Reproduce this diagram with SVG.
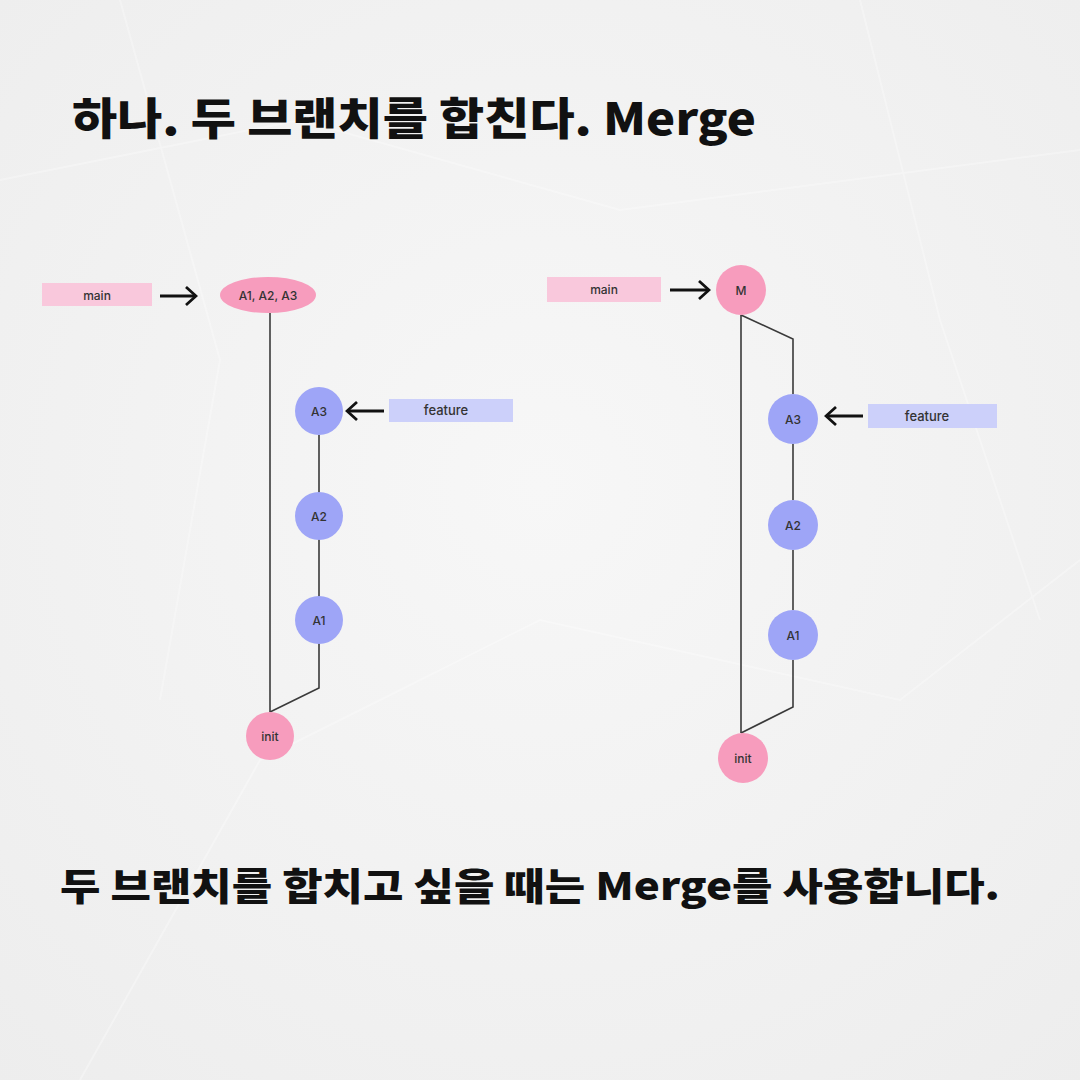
<svg xmlns="http://www.w3.org/2000/svg" width="1080" height="1080" viewBox="0 0 1080 1080">
<defs>
<marker id="open" viewBox="0 0 14 22" refX="12" refY="11" markerWidth="14" markerHeight="22" markerUnits="userSpaceOnUse" orient="auto">
<path d="M2,2 L12,11 L2,20" fill="none" stroke="#111" stroke-width="2.8" stroke-linejoin="miter"/>
</marker>
<radialGradient id="bg" cx="50%" cy="45%" r="75%">
<stop offset="0" stop-color="#f7f7f7"/>
<stop offset="1" stop-color="#ededed"/>
</radialGradient>
</defs>
<style>
.title{font-family:"Noto Sans CJK KR","Noto Sans",sans-serif;font-weight:900;fill:#111}
.lbl{font-family:Inter,"Noto Sans",sans-serif;font-weight:500;fill:#333;text-anchor:middle;dominant-baseline:central}
.pk{fill:#f79cbd}
.bl{fill:#9ea5f7}
.edge{fill:none;stroke:#3a3a3a;stroke-width:1.6}
.arr{fill:none;stroke:#111;stroke-width:2.8;marker-end:url(#open)}
.mainbox{fill:#f9c8dc}
.featbox{fill:#ccd0fa}
</style>
<rect width="1080" height="1080" fill="url(#bg)"/>
<g opacity="0.3" stroke="#ffffff" stroke-width="2" fill="none">
<path d="M0,180 L300,120 L620,210 L1080,150"/>
<path d="M80,1080 L260,760 L540,620 L900,700 L1080,560"/>
<path d="M120,0 L220,360 L160,700"/>
<path d="M860,0 L940,320 L1040,620"/>
</g>
<text class="title" x="72" y="135" font-size="44" textLength="684" lengthAdjust="spacingAndGlyphs">하나. 두 브랜치를 합친다. Merge</text>
<text class="title" x="60" y="900" font-size="38" textLength="940" lengthAdjust="spacingAndGlyphs">두 브랜치를 합치고 싶을 때는 Merge를 사용합니다.</text>
<g id="connectors">
<line class="edge" x1="270" y1="313" x2="270" y2="712"/>
<polyline class="edge" points="319,435 319,688 270,712"/>
<line class="arr" x1="160" y1="296" x2="196" y2="296"/>
<line class="arr" x1="384" y1="411" x2="347" y2="411"/>
<line class="edge" x1="741" y1="315" x2="741" y2="733"/>
<polyline class="edge" points="741,315 793,339 793,394"/>
<line class="edge" x1="793" y1="444" x2="793" y2="500"/>
<line class="edge" x1="793" y1="550" x2="793" y2="610"/>
<polyline class="edge" points="793,660 793,707 741,733"/>
<line class="arr" x1="670" y1="290" x2="709" y2="290"/>
<line class="arr" x1="863" y1="416" x2="826" y2="416"/>
</g>
<g id="main-left"><rect class="mainbox" x="42" y="283" width="110" height="23"/><text class="lbl" x="97" y="295" font-size="12">main</text></g>
<g id="a123"><ellipse class="pk" cx="268" cy="295" rx="48" ry="18"/><text class="lbl" x="268" y="295" font-size="12">A1, A2, A3</text></g>
<g id="feature-left"><rect class="featbox" x="389" y="399" width="124" height="23"/><text class="lbl" x="446" y="410" font-size="13" font-weight="600">feature</text></g>
<g id="a3-left"><circle class="bl" cx="319" cy="411" r="24"/><text class="lbl" x="319" y="411" font-size="12">A3</text></g>
<g id="a2-left"><circle class="bl" cx="319" cy="516" r="24"/><text class="lbl" x="319" y="516" font-size="12">A2</text></g>
<g id="a1-left"><circle class="bl" cx="319" cy="620" r="24"/><text class="lbl" x="319" y="620" font-size="12">A1</text></g>
<g id="init-left"><circle class="pk" cx="270" cy="736" r="24"/><text class="lbl" x="270" y="736" font-size="12">init</text></g>
<g id="main-right"><rect class="mainbox" x="547" y="277" width="114" height="25"/><text class="lbl" x="604" y="289" font-size="12">main</text></g>
<g id="m"><circle class="pk" cx="741" cy="290" r="25"/><text class="lbl" x="741" y="290" font-size="12">M</text></g>
<g id="feature-right"><rect class="featbox" x="868" y="404" width="129" height="24"/><text class="lbl" x="927" y="416" font-size="13" font-weight="600">feature</text></g>
<g id="a3-right"><circle class="bl" cx="793" cy="419" r="25"/><text class="lbl" x="793" y="419" font-size="12">A3</text></g>
<g id="a2-right"><circle class="bl" cx="793" cy="525" r="25"/><text class="lbl" x="793" y="525" font-size="12">A2</text></g>
<g id="a1-right"><circle class="bl" cx="793" cy="635" r="25"/><text class="lbl" x="793" y="635" font-size="12">A1</text></g>
<g id="init-right"><circle class="pk" cx="743" cy="758" r="25"/><text class="lbl" x="743" y="758" font-size="12">init</text></g>
</svg>
